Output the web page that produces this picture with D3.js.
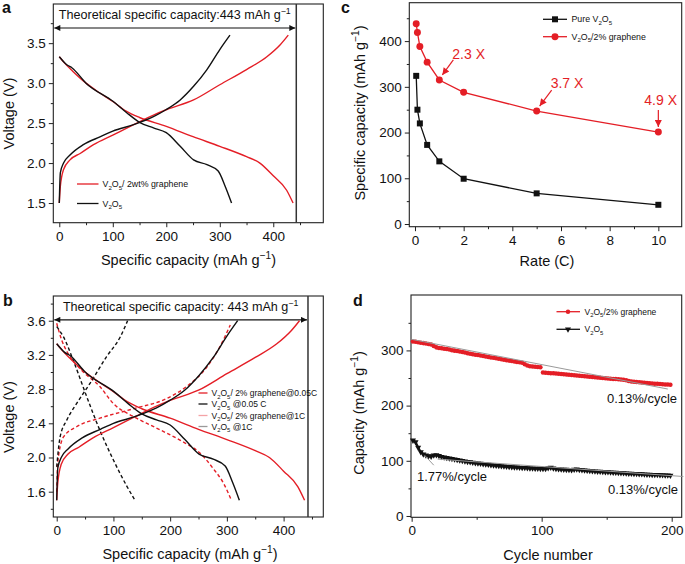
<!DOCTYPE html>
<html><head><meta charset="utf-8">
<script src="https://cdn.jsdelivr.net/npm/d3@7"></script>
<style>body{margin:0;background:#fff}svg{display:block}</style>
</head><body><svg id="chart" width="685" height="564"></svg>
<script>
// ---------------- DATA ----------------
const theoCap = 443;
// 0.05C curves (panels a & b)
const capGrDis = [0,10,25,50,75,100,125,150,200,250,300,350,375,400,425,437];
const voltGrDis = [3.33,3.25,3.15,3.0,2.88,2.77,2.65,2.57,2.46,2.33,2.21,2.08,2.0,1.84,1.66,1.5];
const capGrCh = [0,2,8,20,39,64,100,139,176,201,251,300,350,388,413,428];
const voltGrCh = [1.5,1.71,1.92,2.04,2.12,2.23,2.35,2.48,2.6,2.67,2.79,2.98,3.17,3.33,3.48,3.6];
const capVDis = [0,14,24,50,101,126,150,176,200,226,251,276,297,310,322];
const voltVDis = [3.33,3.23,3.19,3.0,2.77,2.63,2.51,2.44,2.38,2.21,2.04,1.98,1.9,1.71,1.5];
const capVCh = [0,2,8,20,45,77,100,139,176,200,226,251,276,300,319];
const voltVCh = [1.5,1.88,2.0,2.1,2.23,2.33,2.4,2.48,2.58,2.67,2.79,2.96,3.17,3.42,3.6];
// 1C curves (panel b)
const capGrDis1C = [0,9,18,41,76,100,135,171,218,253,276,294,308];
const voltGrDis1C = [3.57,3.37,3.24,3.04,2.83,2.63,2.48,2.36,2.2,2.05,1.87,1.7,1.5];
const capGrCh1C = [0,2,12,35,76,135,194,229,265,288,306];
const voltGrCh1C = [1.6,1.95,2.24,2.36,2.46,2.57,2.69,2.83,3.06,3.3,3.55];
const capVDis1C = [0,12,29,53,76,100,124,138];
const voltVDis1C = [3.53,3.41,3.14,2.71,2.32,1.97,1.66,1.5];
const capVCh1C = [0,6,18,35,59,88,112,125];
const voltVCh1C = [1.89,2.24,2.44,2.63,2.87,3.18,3.41,3.6];
// panel c: rate capability
const rates = [0.05,0.1,0.2,0.5,1,2,5,10];
const capPure = [324,250,220,173,137,99,67,42];
const capGraphene = [438,419,388,354,315,288,247,201];
const rateNotes = ["2.3 X","3.7 X","4.9 X"];
const rateNoteAt = [1,5,10];
// panel d: cycling (every 2nd cycle)
const cycles = d3.range(1,200,2);
const cycGraphene = [316,315.5,314.8,314,313.2,312.5,311.8,310.5,308,305.5,
  304.5,303.8,303,302.5,301.5,300.5,299.6,298.8,298,297,
  296,295,294,293,292.3,291.5,290.6,289.8,289,288,
  287.2,286.5,285.6,284.8,284,283.2,282.3,281.5,280.8,280,
  279.2,278.4,277.5,275,272.5,271.5,271,270.5,270,269.5,
  260,259.6,259.2,258.8,258.4,258,257.6,257.2,256.8,256.4,
  256,255.6,255,254.5,254,253.6,253.2,252.8,252.3,251.8,
  251.3,250.8,250.3,249.8,249.5,249.1,248.7,248.3,248,247.6,
  247.3,247,246,244.5,243.5,243,242.6,242.2,241.8,241.4,
  241,240.6,240.2,239.8,239.4,239,238.7,238.4,238.1,237.8];
const cycV2O5 = [137,134,124,116,112,110,108.5,108,110,110.5,
  109,107.5,106.5,105.5,104.5,103.5,102.6,101.7,100.8,100,
  99.2,98.4,97.6,96.9,96.2,95.5,94.9,94.3,93.7,93.1,
  92.5,92,91.5,91,90.5,90,89.6,89.2,88.8,88.4,
  88.1,87.8,87.5,87.2,86.9,86.6,86.4,86.2,86,85.8,
  85.6,85.5,87,88,86.5,85.6,85.2,84.8,84.4,84,
  83.6,83.3,84.2,84.6,83.8,83.1,82.7,82.3,81.9,81.5,
  81.1,80.7,80.4,80.1,79.8,79.5,79.2,78.9,78.6,78.3,
  78,77.7,77.4,77.1,76.9,76.7,76.4,76.1,75.9,75.6,
  75.3,75.1,74.9,74.7,74.5,74.3,74.1,73.9,73.7,73.5];
const fitGrCycle = [0,197], fitGrCap = [320,230];
const fitVFastCycle = [10,17], fitVFastCap = [110,92];
const fitVSlowCycle = [20,209], fitVSlowCap = [103,71.5];

// ---------------- HELPERS ----------------
const FONT = "'Liberation Sans', Arial, Helvetica, sans-serif";
const RED = "#e41e26", BLK = "#111", PINK = "#f4a3a6", GRAY = "#9a9a9a";
const svg = d3.select("#chart");
const defs = svg.append("defs");
function mk(id, color, w, h) {
  defs.append("marker").attr("id", id).attr("viewBox", "0 0 10 10").attr("refX", 10).attr("refY", 5)
    .attr("markerWidth", w).attr("markerHeight", h).attr("orient", "auto-start-reverse")
    .attr("markerUnits", "userSpaceOnUse")
    .append("path").attr("d", "M0,0L10,5L0,10z").attr("fill", color);
}
mk("arrBlk", "#111", 8, 6);
mk("arrRed", RED, 9, 7);

function rich(t, str, fs) {
  const segs = []; let i = 0, buf = "";
  while (i < str.length) {
    const ch = str[i];
    if (ch === "_" || ch === "^") {
      if (buf) { segs.push({ t: buf, s: 0 }); buf = ""; }
      let c;
      if (str[i + 1] === "{") { const j = str.indexOf("}", i); c = str.slice(i + 2, j); i = j + 1; }
      else { c = str[i + 1]; i += 2; }
      segs.push({ t: c, s: ch === "_" ? 1 : -1 });
    } else { buf += ch; i++; }
  }
  if (buf) segs.push({ t: buf, s: 0 });
  let cur = 0;
  segs.forEach(sg => {
    const target = sg.s === 1 ? 0.3 * fs : sg.s === -1 ? -0.42 * fs : 0;
    const ts = t.append("tspan").text(sg.t);
    if (sg.s !== 0) ts.attr("font-size", (0.7 * fs).toFixed(2));
    if (target !== cur) ts.attr("dy", (target - cur).toFixed(2));
    cur = target;
  });
  return t;
}
function txt(g, x, y, str, fs, opts = {}) {
  const t = g.append("text").attr("x", x).attr("y", y).attr("font-family", FONT)
    .attr("font-size", fs).attr("fill", opts.fill || "#111")
    .attr("text-anchor", opts.anchor || "start").attr("font-weight", opts.bold ? "bold" : null);
  if (opts.rot) t.attr("transform", `rotate(${opts.rot},${x},${y})`);
  return rich(t, str, fs);
}

function panel(c) {
  const g = svg.append("g");
  const x = d3.scaleLinear().domain(c.xd).range([c.l, c.r]);
  const y = d3.scaleLinear().domain(c.yd).range([c.b, c.t]);
  const style = s => {
    s.select(".domain").remove();
    s.selectAll("line").attr("stroke", "#222").attr("stroke-width", 1);
    s.selectAll("text").attr("font-family", FONT).attr("font-size", 13.5).attr("fill", "#111");
  };
  g.append("g").attr("transform", `translate(0,${c.b})`)
    .call(d3.axisBottom(x).tickValues(c.xMin).tickSize(2.5).tickFormat("")).call(style);
  g.append("g").attr("transform", `translate(0,${c.b})`)
    .call(d3.axisBottom(x).tickValues(c.xMaj).tickSize(4.5).tickPadding(4).tickFormat(c.xf)).call(style);
  g.append("g").attr("transform", `translate(${c.l},0)`)
    .call(d3.axisLeft(y).tickValues(c.yMin).tickSize(2.5).tickFormat("")).call(style);
  g.append("g").attr("transform", `translate(${c.l},0)`)
    .call(d3.axisLeft(y).tickValues(c.yMaj).tickSize(4.5).tickPadding(3).tickFormat(c.yf)).call(style);
  g.append("rect").attr("x", c.l).attr("y", c.t).attr("width", c.r - c.l).attr("height", c.b - c.t)
    .attr("fill", "none").attr("stroke", "#222").attr("stroke-width", 1.1);
  txt(g, c.xt[0], c.xt[1], c.xTitle, 14.5, { anchor: "middle" });
  txt(g, c.yt[0], c.yt[1], c.yTitle, 14.5, { anchor: "middle", rot: -90 });
  txt(g, c.letter[0], c.letter[1], c.letter[2], 16, { bold: true });
  return { g, x, y };
}
function curve(p, xs, ys, color, dash, w) {
  const pts = xs.map((v, i) => [v, ys[i]]);
  p.g.append("path").datum(pts)
    .attr("d", d3.line().x(d => p.x(d[0])).y(d => p.y(d[1])).curve(d3.curveMonotoneX))
    .attr("fill", "none").attr("stroke", color).attr("stroke-width", w || 1.4)
    .attr("stroke-dasharray", dash || null);
}
function theo(p, yv, label, fs, ty) {
  const xv = p.x(theoCap);
  p.g.append("line").attr("x1", xv).attr("x2", xv).attr("y1", p.y.range()[1]).attr("y2", p.y.range()[0])
    .attr("stroke", "#333").attr("stroke-width", 1.5);
  p.g.append("line").attr("x1", p.x.range()[0] + 1).attr("x2", xv - 1).attr("y1", p.y(yv)).attr("y2", p.y(yv))
    .attr("stroke", "#111").attr("stroke-width", 1.1)
    .attr("marker-start", "url(#arrBlk)").attr("marker-end", "url(#arrBlk)");
  txt(p.g, (p.x.range()[0] + xv) / 2, ty, label, fs, { anchor: "middle" });
}

// ---------------- PANEL A ----------------
const pa = panel({ l: 53.3, r: 323.3, t: 4, b: 222.7, xd: [-11.2, 493.5], yd: [1.254, 3.99],
  xMaj: [0, 100, 200, 300, 400], xMin: [50, 150, 250, 350, 450], yMaj: [1.5, 2, 2.5, 3, 3.5],
  yMin: [1.75, 2.25, 2.75, 3.25, 3.75], xf: d3.format("d"), yf: d3.format(".1f"),
  xTitle: "Specific capacity (mAh g^{−1})", yTitle: "Voltage (V)", xt: [188.5, 265], yt: [13.5, 113.5],
  letter: [2, 13, "a"] });
theo(pa, 3.69, "Theoretical specific capacity:443 mAh g^{−1}", 12.6, 19);
curve(pa, capGrDis, voltGrDis, RED);
curve(pa, capGrCh, voltGrCh, RED);
curve(pa, capVDis, voltVDis, BLK);
curve(pa, capVCh, voltVCh, BLK);
[[RED, "V_2O_5/ 2wt% graphene", 184], [BLK, "V_2O_5", 203.5]].forEach(([col, lab, yy]) => {
  pa.g.append("line").attr("x1", 77).attr("x2", 98.5).attr("y1", yy).attr("y2", yy).attr("stroke", col).attr("stroke-width", 1.3);
  txt(pa.g, 102.5, yy + 3, lab, 8.8);
});

// ---------------- PANEL B ----------------
const pb = panel({ l: 53.3, r: 323.3, t: 296, b: 517, xd: [-6, 470], yd: [1.304, 3.889],
  xMaj: [0, 100, 200, 300, 400], xMin: [50, 150, 250, 350, 450], yMaj: [1.6, 2.0, 2.4, 2.8, 3.2, 3.6],
  yMin: [1.4, 1.8, 2.2, 2.6, 3.0, 3.4, 3.8], xf: d3.format("d"), yf: d3.format(".1f"),
  xTitle: "Specific capacity (mAh g^{−1})", yTitle: "Voltage (V)", xt: [190, 559], yt: [13.5, 417],
  letter: [3, 306, "b"] });
theo(pb, 3.61, "Theoretical specific capacity: 443 mAh g^{−1}", 12.6, 311);
curve(pb, capGrDis1C, voltGrDis1C, RED, "3.5,2.5");
curve(pb, capGrCh1C, voltGrCh1C, RED, "3.5,2.5");
curve(pb, capVDis1C, voltVDis1C, BLK, "3.5,2.5");
curve(pb, capVCh1C, voltVCh1C, BLK, "3.5,2.5");
curve(pb, capGrDis, voltGrDis, RED);
curve(pb, capGrCh, voltGrCh, RED);
curve(pb, capVDis, voltVDis, BLK);
curve(pb, capVCh, voltVCh, BLK);
[[RED, "V_2O_5/ 2% graphene@0.05C", 393], [BLK, "V_2O_5 @0.05 C", 404], [PINK, "V_2O_5/ 2% graphene@1C", 415.5], [GRAY, "V_2O_5 @1C", 426.5]]
  .forEach(([col, lab, yy]) => {
    pb.g.append("line").attr("x1", 198.5).attr("x2", 207.5).attr("y1", yy).attr("y2", yy).attr("stroke", col).attr("stroke-width", 1.3);
    txt(pb.g, 211.5, yy + 3, lab, 8.5);
  });

// ---------------- PANEL C ----------------
const pc = panel({ l: 409.3, r: 681.7, t: 2.7, b: 226.7, xd: [-0.234, 10.96], yd: [-5.9, 484],
  xMaj: [0, 2, 4, 6, 8, 10], xMin: [1, 3, 5, 7, 9], yMaj: [0, 100, 200, 300, 400], yMin: [50, 150, 250, 350, 450],
  xf: d3.format("d"), yf: d3.format("d"),
  xTitle: "Rate (C)", yTitle: "Specific capacity (mAh g^{−1})", xt: [547, 266], yt: [365, 113],
  letter: [341, 13, "c"] });
const lineC = d3.line().x(d => pc.x(d[0])).y(d => pc.y(d[1]));
const sq = d3.symbol().type(d3.symbolSquare).size(36);
const ci = d3.symbol().type(d3.symbolCircle).size(38);
pc.g.append("path").datum(rates.map((r, i) => [r, capPure[i]])).attr("d", lineC).attr("fill", "none").attr("stroke", BLK).attr("stroke-width", 1.3);
pc.g.append("path").datum(rates.map((r, i) => [r, capGraphene[i]])).attr("d", lineC).attr("fill", "none").attr("stroke", RED).attr("stroke-width", 1.3);
rates.forEach((r, i) => {
  pc.g.append("path").attr("d", sq).attr("transform", `translate(${pc.x(r)},${pc.y(capPure[i])})`).attr("fill", BLK);
  pc.g.append("path").attr("d", ci).attr("transform", `translate(${pc.x(r)},${pc.y(capGraphene[i])})`).attr("fill", RED);
});
// annotations
const noteOff = [[13, -36, 8, -20], [14, -38, 9, -21], [-14, -42, 0, -22]];
rateNoteAt.forEach((r, k) => {
  const i = rates.indexOf(r);
  const px = pc.x(r), py = pc.y(capGraphene[i]);
  const o = noteOff[k];
  const tipDx = k === 2 ? 0 : 3, tipDy = -5;
  pc.g.append("line").attr("x1", px + o[2] + (k === 2 ? 0 : 6)).attr("y1", py + o[3]).attr("x2", px + tipDx).attr("y2", py + tipDy)
    .attr("stroke", RED).attr("stroke-width", 1.2).attr("marker-end", "url(#arrRed)");
  txt(pc.g, px + o[0], py + o[1] + 15, rateNotes[k], 14, { fill: RED });
});
// legend c
[[BLK, "Pure V_2O_5", 19.3, sq], [RED, "V_2O_5/2% graphene", 36.7, ci]].forEach(([col, lab, yy, sym]) => {
  pc.g.append("line").attr("x1", 543).attr("x2", 567).attr("y1", yy).attr("y2", yy).attr("stroke", col).attr("stroke-width", 1.3);
  pc.g.append("path").attr("d", sym).attr("transform", `translate(555,${yy})`).attr("fill", col);
  txt(pc.g, 571.5, yy + 3, lab, 8.8);
});

// ---------------- PANEL D ----------------
const pd = panel({ l: 411, r: 681.7, t: 295, b: 517.3, xd: [-0.5, 207.7], yd: [-2.4, 400.4],
  xMaj: [0, 100, 200], xMin: [50, 150], yMaj: [0, 100, 200, 300], yMin: [50, 150, 250, 350],
  xf: d3.format("d"), yf: d3.format("d"),
  xTitle: "Cycle number", yTitle: "Capacity (mAh g^{−1})", xt: [548, 560], yt: [364, 413],
  letter: [353, 306, "d"] });
const lineD = d3.line().x(d => pd.x(d[0])).y(d => pd.y(d[1]));
const tri = d3.symbol().type(d3.symbolTriangle).size(16);
const dot = d3.symbol().type(d3.symbolCircle).size(16);
const grSeg1 = cycles.map((c, i) => [c, cycGraphene[i]]).filter(d => d[0] < 100);
const grSeg2 = cycles.map((c, i) => [c, cycGraphene[i]]).filter(d => d[0] > 100);
[grSeg1, grSeg2].forEach(seg => pd.g.append("path").datum(seg).attr("d", lineD).attr("fill", "none").attr("stroke", RED).attr("stroke-width", 2.2));
pd.g.append("path").datum(cycles.map((c, i) => [c, cycV2O5[i]])).attr("d", lineD).attr("fill", "none").attr("stroke", BLK).attr("stroke-width", 2.2);
cycles.forEach((c, i) => {
  pd.g.append("path").attr("d", dot).attr("transform", `translate(${pd.x(c)},${pd.y(cycGraphene[i])})`).attr("fill", RED);
  pd.g.append("path").attr("d", tri).attr("transform", `translate(${pd.x(c)},${pd.y(cycV2O5[i])}) rotate(180)`).attr("fill", BLK);
});
[[fitGrCycle, fitGrCap], [fitVFastCycle, fitVFastCap], [fitVSlowCycle, fitVSlowCap]].forEach(([cx, cy]) => {
  pd.g.append("line").attr("x1", pd.x(cx[0])).attr("y1", pd.y(cy[0])).attr("x2", pd.x(cx[1])).attr("y2", pd.y(cy[1]))
    .attr("stroke", GRAY).attr("stroke-width", 1);
});
txt(pd.g, 607, 403, "0.13%/cycle", 13);
txt(pd.g, 417, 481, "1.77%/cycle", 13);
txt(pd.g, 608, 494, "0.13%/cycle", 13);
[[RED, "V_2O_5/2% graphene", 311.7, dot, 0], [BLK, "V_2O_5", 329.3, tri, 180]].forEach(([col, lab, yy, sym, rot]) => {
  pd.g.append("line").attr("x1", 556.5).attr("x2", 580).attr("y1", yy).attr("y2", yy).attr("stroke", col).attr("stroke-width", 1.3);
  pd.g.append("path").attr("d", sym).attr("transform", `translate(568,${yy}) rotate(${rot})`).attr("fill", col);
  txt(pd.g, 584.5, yy + 3, lab, 8.5);
});
</script></body></html>
